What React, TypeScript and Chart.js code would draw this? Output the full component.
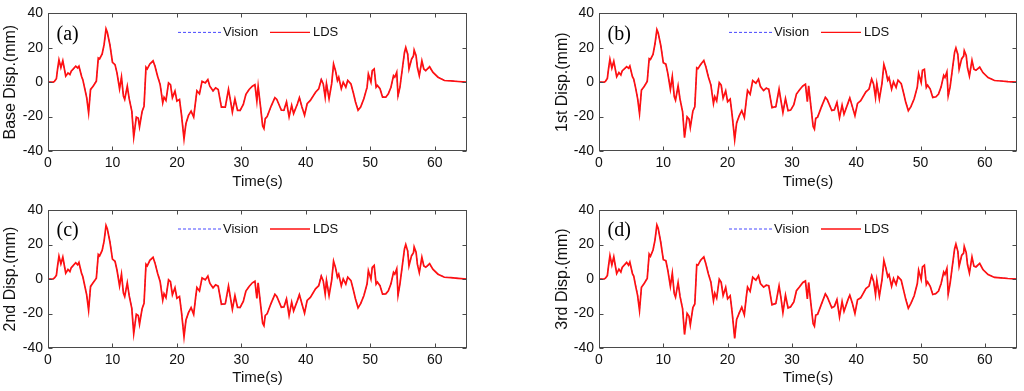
import React, { useEffect, useRef } from "react";
import { Chart, registerables } from "chart.js";

Chart.register(...registerables);

// ---------- data ----------
const timeS = [
  0, 0.8, 1.0, 1.3, 1.5, 1.7, 2.0, 2.3, 2.75, 3.1,
  3.4, 3.6, 4.3, 4.6, 4.8, 5.2, 5.4, 5.7, 6.0, 6.3,
  6.6, 7.0, 7.5, 7.8, 8.0, 8.4, 8.7, 9.0, 9.2, 9.6,
  10.0, 10.4, 10.7, 11.1, 11.4, 11.7, 11.9, 12.3, 12.6, 13.0,
  13.3, 13.7, 14.0, 14.2, 14.6, 14.9, 15.2, 15.4, 15.8, 16.3,
  16.6, 17.0, 17.4, 17.8, 18.0, 18.3, 18.7, 19.0, 19.3, 19.7,
  20.0, 20.4, 20.7, 21.1, 21.4, 21.8, 22.2, 22.6, 22.9, 23.1,
  23.5, 23.9, 24.4, 24.8, 25.1, 25.6, 26.0, 26.4, 26.9, 27.5,
  28.0, 28.3, 28.6, 29.0, 29.4, 29.8, 30.3, 30.7, 31.2, 31.7,
  32.1, 32.4, 32.6, 32.9, 33.3, 33.5, 33.7, 34.0, 34.6, 35.2,
  35.5, 36.2, 36.6, 37.0, 37.4, 37.8, 38.1, 38.7, 39.0, 39.4,
  39.8, 40.2, 40.7, 41.5, 42.0, 42.4, 42.7, 43.0, 43.2, 43.6,
  44.0, 44.3, 44.6, 44.9, 45.1, 45.5, 45.8, 46.2, 46.5, 47.0,
  47.4, 47.7, 48.1, 48.5, 49.0, 49.5, 49.7, 50.1, 50.3, 50.6,
  50.9, 51.1, 51.5, 51.9, 52.4, 52.8, 53.2, 53.6, 53.8, 54.1,
  54.3, 54.6, 55.0, 55.3, 55.5, 55.8, 56.0, 56.4, 56.7, 56.8,
  57.1, 57.3, 57.6, 58.0, 58.3, 58.6, 59.2, 59.7, 60.5, 61.5,
  62.5, 63.6, 65,
];

const ldsBase = [
  0, 0, 0.5, 2, 8, 13, 8.5, 12.5, 3.5, 5.4,
  4.4, 6.4, 9.3, 8.3, 9.3, 3.5, 1.5, -3.7, -9, -17.8,
  -4.2, -2.3, 0.6, 14, 13.5, 16.4, 21.8, 31, 29, 21.8,
  11.6, 10.2, 5.4, -3.9, 3, -8, -10, -2.3, -9.7, -16.8,
  -31.9, -20.3, -21, -26, -17, -14, 8.7, 7.7, 10.6, 12.4,
  9.3, 3.5, -1.4, -12, -8.7, -10.6, -0.4, -1.4, -9, -5.2,
  -11, -10, -18.7, -33, -24, -19.3, -16.8, -20.3, -11, -5,
  -6.8, 0.6, -0.4, 1.5, -2.3, -5, -3.3, -4.2, -14.5, -14.5,
  -4.2, -10.6, -17.4, -9.7, -16.4, -16.4, -12.9, -7.1, -4.2, -2.3,
  -1.4, -11, -2.3, -12, -25.5, -27, -21.2, -20, -14, -9,
  -10, -16.3, -16.3, -11.5, -20.2, -13.5, -18.3, -12.5, -9, -14.4,
  -19.2, -12.5, -10.6, -5.8, -3.8, 1.5, -1, -8.7, -1, -9.6,
  -1, 10.6, 6.7, 1, 2.9, -3.8, 0, -2.9, 1, -1,
  -6.7, -11.5, -16.3, -14.4, -9.6, -2.9, 4.8, 0, 6.7, 7.7,
  -2.9, -1.9, -3.8, -8.7, -8.7, -6.7, -2.9, 3.8, 2.9, 5.8,
  -7.7, -2.9, 8.7, 17.3, 20.2, 16.3, 7.7, 13.5, 15.4, 18.7,
  15.4, 8.7, 3.8, 12.5, 7.7, 6.7, 9, 5.8, 2.9, 1,
  0.8, 0.4, 0,
];
const visionBase = [
  0, 0, 0.4, 2.2, 7.6, 12.6, 8.8, 12.1, 3.9, 5.1,
  4.7, 6.1, 9, 8.6, 9, 3.9, 1.2, -3.4, -8.6, -17.2,
  -4.6, -2.1, 0.9, 13.6, 13.8, 16, 21.4, 30.4, 28.6, 22.2,
  11.9, 9.8, 5.7, -3.5, 2.6, -7.6, -9.6, -2.6, -9.3, -16.4,
  -31.2, -20.7, -20.6, -25.4, -17.4, -13.6, 8.2, 8, 10.2, 12,
  9.6, 3.8, -1.1, -11.5, -9, -10.2, -0.8, -1.1, -8.6, -5.6,
  -10.6, -10.3, -18.2, -32.3, -24.4, -19, -17.1, -19.8, -11.4, -5.3,
  -6.5, 0.3, -0.1, 1.2, -2, -5.3, -3, -4.5, -14, -14.9,
  -4.5, -10.2, -16.9, -10, -16, -16.8, -12.6, -7.4, -3.9, -2.6,
  -1.7, -10.5, -2.6, -11.6, -25, -26.4, -21.6, -19.6, -14.4, -8.7,
  -10.3, -15.9, -16.7, -11.2, -19.6, -13.8, -17.8, -12.8, -8.7, -14.8,
  -18.7, -12.8, -10.3, -6.1, -3.5, 2.2, -1.4, -8.2, -0.6, -9.1,
  -1.4, 10, 7, 0.6, 3.2, -3.4, -0.4, -2.6, 1.3, -1.3,
  -6.4, -11.2, -15.8, -14.7, -9.3, -3.3, 4.3, 0.4, 6.2, 7.3,
  -2.5, -2.2, -3.5, -8.3, -9, -6.4, -3.2, 3.4, 3.2, 5.4,
  -8.4, -2.5, 8.2, 16.8, 19.5, 16.6, 8.1, 13, 15, 18.1,
  15.7, 9, 4.2, 12, 8, 6.4, 8.6, 5.9, 3, 1.1,
  0.8, 0.4, 0,
];

const ldsFirst = [
  0, 0, 0.5, 2.2, 8.3, 13.4, 8.2, 12.2, 3.2, 5.6,
  4.2, 6.6, 9.1, 8.1, 9.4, 3.2, 1.8, -3.4, -9.4, -18.2,
  -4.6, -2.6, 0.4, 13.7, 13.2, 16.1, 22.2, 30.6, 28.7, 21.5,
  11.3, 10.5, 5.1, -4.2, 3.3, -8.3, -10.4, -2.1, -9.9, -17.2,
  -32.3, -20.1, -21.4, -26.4, -16.7, -14.3, 8.4, 7.9, 10.3, 12.6,
  9.1, 3.2, -1.7, -12.4, -8.4, -10.9, -0.2, -1.7, -9.3, -5,
  -11.3, -9.8, -19, -33.4, -23.7, -19.6, -16.5, -20.6, -10.7, -4.8,
  -7, 0.9, -0.6, 1.8, -2.5, -4.8, -3.5, -4, -14.8, -14.2,
  -4, -10.9, -17.7, -9.5, -16.6, -16.2, -13.1, -6.9, -4.4, -2.1,
  -1.2, -11.3, -2.1, -12.3, -25.8, -27.3, -21, -20.3, -14.2, -8.8,
  -10.2, -16.5, -16.1, -11.8, -20.6, -13.3, -18.6, -12.3, -9.2, -14.2,
  -19.5, -12.3, -10.8, -5.6, -4, 1.8, -1.2, -8.9, -0.8, -9.8,
  -0.8, 10.3, 6.5, 1.2, 2.7, -4, 0.2, -3.1, 1.2, -0.8,
  -6.9, -11.7, -16.6, -14.2, -9.8, -2.7, 5, -0.2, 6.9, 7.5,
  -3.1, -1.7, -4, -8.9, -8.5, -6.9, -2.7, 4, 2.7, 6,
  -7.9, -2.7, 8.9, 17.5, 19.9, 16.1, 7.5, 13.7, 15.2, 18.4,
  15.6, 8.5, 3.6, 12.7, 7.5, 6.9, 8.8, 5.6, 2.7, 1,
  0.7, 0.3, 0,
];
const visionFirst = [
  0, 0, 0.4, 2.4, 7.9, 13, 8.5, 11.8, 3.6, 5.3,
  4.5, 6.3, 8.8, 8.4, 9.1, 3.6, 1.5, -3.1, -9, -17.6,
  -5, -2.4, 0.7, 13.3, 13.5, 15.7, 21.8, 30, 28.3, 21.9,
  11.6, 10.1, 5.4, -3.8, 2.9, -7.9, -10, -2.4, -9.5, -16.8,
  -31.6, -20.5, -21, -25.8, -17.1, -13.9, 7.9, 8.2, 9.9, 12.2,
  9.4, 3.5, -1.4, -11.9, -8.7, -10.5, -0.6, -1.4, -8.9, -5.4,
  -10.9, -10.1, -18.5, -32.7, -24.1, -19.3, -16.8, -20.1, -11.1, -5.1,
  -6.7, 0.6, -0.3, 1.5, -2.2, -5.1, -3.2, -4.3, -14.3, -14.6,
  -4.3, -10.5, -17.2, -9.8, -16.2, -16.6, -12.8, -7.2, -4.1, -2.4,
  -1.5, -10.8, -2.4, -11.9, -25.3, -26.7, -21.4, -19.9, -14.6, -8.5,
  -10.5, -16.1, -16.5, -11.5, -20, -13.6, -18.1, -12.6, -8.9, -14.6,
  -19, -12.6, -10.5, -5.9, -3.7, 2.5, -1.6, -8.4, -0.4, -9.3,
  -1.2, 9.7, 6.8, 0.8, 3, -3.6, -0.2, -2.8, 1.5, -1.1,
  -6.6, -11.4, -16.1, -14.5, -9.5, -3.1, 4.5, 0.2, 6.4, 7.1,
  -2.7, -2, -3.7, -8.5, -8.8, -6.6, -3, 3.6, 3, 5.6,
  -8.6, -2.3, 8.4, 17, 19.2, 16.4, 7.9, 13.2, 14.8, 17.8,
  15.9, 8.8, 4, 12.2, 7.8, 6.6, 8.4, 5.7, 2.8, 1.1,
  0.7, 0.3, 0,
];

const ldsSecond = [
  0, 0, 0.6, 2.1, 8.1, 13.2, 8.7, 12.7, 3.4, 5.5,
  4.3, 6.5, 9.4, 8.2, 9.6, 3.3, 1.4, -3.9, -9.2, -18.1,
  -4.3, -2.2, 0.5, 14.2, 13.4, 16.6, 22, 31.1, 29.2, 21.6,
  11.5, 10.3, 5.2, -4, 2.8, -8.2, -10.2, -2.2, -9.8, -17,
  -31.6, -20.4, -21.2, -26.2, -17.2, -14.1, 8.5, 7.6, 10.8, 12.6,
  9.2, 3.3, -1.6, -12.3, -8.5, -10.8, -0.5, -1.6, -9.2, -5.1,
  -11.2, -10.1, -18.9, -33.5, -23.8, -19.5, -16.6, -20.5, -10.8, -4.9,
  -6.9, 0.7, -0.5, 1.7, -2.4, -5.1, -3.4, -4.1, -14.7, -14.4,
  -4.1, -10.8, -17.6, -9.6, -16.5, -16.5, -13, -7, -4.3, -2.2,
  -1.3, -11.2, -2.2, -12.2, -25.7, -27.1, -21.1, -20.2, -14.1, -8.9,
  -10.1, -16.4, -16.2, -11.6, -21.2, -13.4, -18.5, -12.4, -9.1, -14.5,
  -19.8, -12.4, -10.7, -5.7, -3.9, 1.7, -1.1, -8.8, -0.9, -9.7,
  -0.9, 10.4, 6.6, 1.1, 2.8, -3.9, 0.1, -3, 1.1, -0.9,
  -6.8, -11.6, -16.8, -14.3, -9.7, -2.8, 4.9, -0.1, 6.8, 7.9,
  -3, -1.8, -3.9, -8.8, -8.6, -6.8, -2.8, 3.9, 2.8, 5.9,
  -9.4, -2.8, 8.8, 17.4, 20, 16.2, 7.6, 13.6, 15.3, 18.6,
  15.5, 8.6, 3.7, 12.6, 7.6, 6.8, 8.9, 5.7, 2.8, 1,
  0.8, 0.4, 0,
];
const visionSecond = [
  0, 0, 0.5, 2.3, 7.7, 12.8, 9, 12.3, 3.8, 5.2,
  4.6, 6.2, 9.1, 8.5, 9.2, 3.7, 1.1, -3.5, -8.8, -17.5,
  -4.7, -2, 0.8, 13.8, 13.7, 16.2, 21.6, 30.5, 28.8, 22,
  11.8, 9.9, 5.5, -3.6, 2.4, -7.8, -9.8, -2.5, -9.4, -16.6,
  -30.9, -20.8, -20.8, -25.6, -17.6, -13.7, 8, 7.9, 10.4, 12.2,
  9.5, 3.6, -1.3, -11.8, -8.8, -10.4, -0.9, -1.3, -8.8, -5.5,
  -10.8, -10.4, -18.4, -32.8, -24.2, -19.2, -16.9, -20, -11.2, -5.2,
  -6.6, 0.4, -0.2, 1.4, -2.1, -5.4, -3.1, -4.4, -14.2, -14.8,
  -4.4, -10.4, -17.1, -9.9, -16.1, -16.9, -12.7, -7.3, -4, -2.5,
  -1.6, -10.7, -2.5, -11.8, -25.2, -26.5, -21.5, -19.8, -14.5, -8.6,
  -10.4, -16, -16.6, -11.3, -20.6, -13.7, -18, -12.7, -8.8, -14.9,
  -19.3, -12.7, -10.4, -6, -3.6, 2.4, -1.5, -8.3, -0.5, -9.2,
  -1.3, 9.8, 6.9, 0.7, 3.1, -3.5, -0.3, -2.7, 1.4, -1.2,
  -6.5, -11.3, -16.3, -14.6, -9.4, -3.2, 4.4, 0.3, 6.3, 7.5,
  -2.6, -2.1, -3.6, -8.4, -8.9, -6.5, -3.1, 3.5, 3.1, 5.5,
  -10.1, -2.4, 8.3, 16.9, 19.3, 16.5, 8, 13.1, 14.9, 18,
  15.8, 8.9, 4.1, 12.1, 7.9, 6.5, 8.5, 5.8, 2.9, 1.1,
  0.8, 0.4, 0,
];

const ldsThird = [
  0, 0, 0.5, 2, 8.2, 13.6, 8.1, 12.9, 3.1, 5.7,
  4.1, 6.7, 9.6, 8, 9.8, 3.1, 1.7, -4.1, -9.5, -18.3,
  -4.8, -2.7, 0.3, 14.4, 13.1, 16.8, 22.4, 31.4, 29.5, 21.3,
  11.2, 10.6, 5, -4.3, 3.4, -8.5, -10.6, -2, -10.1, -17.3,
  -32.2, -19.9, -21.6, -26.6, -16.6, -14.5, 8.3, 8.1, 10.9, 12.8,
  9, 3.1, -1.9, -12.6, -8.2, -11.1, -0.1, -1.9, -9.6, -4.9,
  -11.5, -9.7, -19.2, -34.4, -23.5, -19.8, -16.3, -20.8, -10.5, -4.7,
  -7.2, 1, -0.7, 1.9, -2.6, -4.7, -3.6, -3.9, -15, -14.1,
  -3.9, -11.1, -19.5, -9.4, -16.8, -16.1, -13.3, -6.8, -4.5, -2,
  -1.1, -11.5, -2, -12.5, -26, -27.4, -20.9, -20.5, -14.4, -8.6,
  -10.4, -16.7, -15.9, -12, -22, -13.1, -18.8, -12.1, -9.4, -14.1,
  -20, -12.1, -10.9, -5.5, -4.1, 1.9, -1.3, -9.1, -0.7, -10,
  -0.7, 10.8, 6.4, 1.3, 2.6, -4.2, 0.3, -3.2, 1.3, -0.7,
  -7, -11.8, -16.9, -14.1, -9.9, -2.6, 5.1, -0.3, 7, 8,
  -3.2, -1.6, -4.2, -9, -8.4, -7, -2.6, 4.1, 2.6, 6.1,
  -8.8, -2.6, 9, 17.6, 20.3, 16, 7.4, 13.8, 15.1, 18.9,
  15.3, 8.4, 3.5, 12.8, 7.4, 7, 9.1, 5.5, 2.6, 0.9,
  0.7, 0.3, 0,
];
const visionThird = [
  0, 0, 0.4, 2.2, 7.8, 13.2, 8.4, 12.5, 3.5, 5.4,
  4.4, 6.4, 9.3, 8.3, 9.4, 3.5, 1.4, -3.7, -9.1, -17.7,
  -5.2, -2.5, 0.6, 14, 13.4, 16.4, 22, 30.8, 29.1, 21.7,
  11.5, 10.2, 5.3, -3.9, 3, -8.1, -10.2, -2.3, -9.7, -16.9,
  -31.5, -20.3, -21.2, -26, -17, -14.1, 7.8, 8.4, 10.5, 12.4,
  9.3, 3.4, -1.6, -12.1, -8.5, -10.7, -0.5, -1.6, -9.2, -5.3,
  -11.1, -10, -18.7, -33.7, -23.9, -19.5, -16.6, -20.3, -10.9, -5,
  -6.9, 0.7, -0.4, 1.6, -2.3, -5, -3.3, -4.2, -14.5, -14.5,
  -4.2, -10.7, -19, -9.7, -16.4, -16.5, -13, -7.1, -4.2, -2.3,
  -1.4, -11, -2.3, -12.1, -25.5, -26.8, -21.3, -20.1, -14.8, -8.3,
  -10.7, -16.3, -16.3, -11.7, -21.4, -13.4, -18.3, -12.4, -9.1, -14.5,
  -19.5, -12.4, -10.6, -5.8, -3.8, 2.6, -1.7, -8.6, -0.3, -9.5,
  -1.1, 10.2, 6.7, 0.9, 2.9, -3.8, -0.1, -2.9, 1.6, -1,
  -6.7, -11.5, -16.4, -14.4, -9.6, -3, 4.6, 0.1, 6.5, 7.6,
  -2.8, -1.9, -3.9, -8.6, -8.7, -6.7, -2.9, 3.7, 2.9, 5.7,
  -9.5, -2.2, 8.5, 17.1, 19.6, 16.3, 7.8, 13.3, 14.7, 18.3,
  15.6, 8.7, 3.9, 12.3, 7.7, 6.7, 8.7, 5.6, 2.7, 1,
  0.7, 0.3, 0,
];

const xTicks = [0, 10, 20, 30, 40, 50, 60];
const yTicks = [-40, -20, 0, 20, 40];
const panelLetters = ["(a)", "(b)", "(c)", "(d)"];
const yTitles = ["Base Disp.(mm)", "1st Disp.(mm)", "2nd Disp.(mm)", "3rd Disp.(mm)"];
const xTitle = "Time(s)";
const legendLabels = ["Vision", "LDS"];
const ldsSeries = [ldsBase, ldsFirst, ldsSecond, ldsThird];
const visionSeries = [visionBase, visionFirst, visionSecond, visionThird];

// ---------- layout / style ----------
const SANS = "'Liberation Sans', Arial, sans-serif";
const SERIF = "'Liberation Serif', 'Times New Roman', serif";
const TEXT = "#111";
const RED = "#ff1010";
const BLUE = "#4848ff";

type Geom = {
  left: number; top: number; width: number; height: number;
  yAxisW: number; padRight: number; padTop: number; xAxisH: number; yTitlePad: number;
};
const geoms: Geom[] = [
  { left: 0, top: 0, width: 512, height: 195, yAxisW: 48, padRight: 45, padTop: 12, xAxisH: 44, yTitlePad: 0.5 },
  { left: 512, top: 0, width: 512, height: 195, yAxisW: 87, padRight: 7, padTop: 12, xAxisH: 44, yTitlePad: 40.5 },
  { left: 0, top: 195, width: 512, height: 196, yAxisW: 48, padRight: 45, padTop: 15, xAxisH: 43, yTitlePad: 0.5 },
  { left: 512, top: 195, width: 512, height: 196, yAxisW: 87, padRight: 7, padTop: 15, xAxisH: 43, yTitlePad: 40.5 },
];

const framePlugin = {
  id: "matlabFrame",
  afterDraw(chart: any, _args: any, opts: any) {
    const { ctx, chartArea: a, scales } = chart;
    const xs = scales.x;
    const ys = scales.y;
    ctx.save();
    // box
    ctx.strokeStyle = "#4a4a4a";
    ctx.lineWidth = 1;
    const L = Math.round(a.left) + 0.5;
    const R = Math.round(a.right) - 0.5;
    const T = Math.round(a.top) + 0.5;
    const B = Math.round(a.bottom) - 0.5;
    ctx.strokeRect(L, T, R - L, B - T);
    // inward ticks on all four sides
    const tl = 4;
    ctx.beginPath();
    for (const v of xTicks) {
      const px = Math.round(xs.getPixelForValue(v)) + 0.5;
      ctx.moveTo(px, B); ctx.lineTo(px, B - tl);
      ctx.moveTo(px, T); ctx.lineTo(px, T + tl);
    }
    for (const v of yTicks) {
      const py = Math.round(ys.getPixelForValue(v)) + 0.5;
      ctx.moveTo(L, py); ctx.lineTo(L + tl, py);
      ctx.moveTo(R, py); ctx.lineTo(R - tl, py);
    }
    ctx.stroke();

    // legend
    const ly = a.top + 19;
    ctx.font = `13px ${SANS}`;
    ctx.fillStyle = TEXT;
    ctx.textBaseline = "middle";
    ctx.textAlign = "left";
    ctx.strokeStyle = BLUE;
    ctx.lineWidth = 1;
    ctx.setLineDash([3, 2]);
    ctx.beginPath();
    ctx.moveTo(a.left + 130, ly); ctx.lineTo(a.left + 174, ly);
    ctx.stroke();
    ctx.setLineDash([]);
    ctx.fillText(legendLabels[0], a.left + 175, ly);
    ctx.strokeStyle = RED;
    ctx.lineWidth = 1.4;
    ctx.beginPath();
    ctx.moveTo(a.left + 222, ly); ctx.lineTo(a.left + 262, ly);
    ctx.stroke();
    ctx.fillText(legendLabels[1], a.left + 265, ly);

    // panel letter
    ctx.font = `20px ${SERIF}`;
    ctx.fillStyle = "#000";
    ctx.fillText(opts.letter, a.left + 8.5, a.top + 21);
    ctx.restore();
  },
};

function Panel({ idx }: { idx: number }) {
  const ref = useRef<HTMLCanvasElement>(null);
  const g = geoms[idx];
  useEffect(() => {
    if (!ref.current) return;
    const lds = ldsSeries[idx];
    const vis = visionSeries[idx];
    const chart = new Chart(ref.current, {
      type: "line",
      data: {
        datasets: [
          {
            label: legendLabels[1],
            data: timeS.map((t, i) => ({ x: t, y: lds[i] })),
            borderColor: RED,
            borderWidth: 1.7,
            pointRadius: 0,
            tension: 0,
            fill: false,
          },
          {
            label: legendLabels[0],
            data: timeS.map((t, i) => ({ x: t, y: vis[i] })),
            borderColor: BLUE,
            borderWidth: 1,
            borderDash: [3, 2],
            pointRadius: 0,
            tension: 0,
            fill: false,
          },
        ],
      },
      options: {
        animation: false,
        responsive: false,
        events: [],
        layout: { padding: { left: 0, right: g.padRight, top: g.padTop, bottom: 0 } },
        plugins: {
          legend: { display: false },
          tooltip: { enabled: false },
          matlabFrame: { letter: panelLetters[idx] },
        } as any,
        scales: {
          x: {
            type: "linear",
            min: 0,
            max: 65,
            afterBuildTicks: (s: any) => { s.ticks = xTicks.map((v) => ({ value: v })); },
            afterFit: (s: any) => { s.height = g.xAxisH; },
            grid: { display: false, drawTicks: false },
            border: { display: false },
            ticks: { padding: 4, color: TEXT, font: { family: SANS, size: 14 }, maxRotation: 0, autoSkip: false },
            title: {
              display: true, text: xTitle, color: TEXT,
              font: { family: SANS, size: 15 }, padding: { top: 0, bottom: 4.3 },
            },
          },
          y: {
            type: "linear",
            min: -40,
            max: 40,
            afterBuildTicks: (s: any) => { s.ticks = yTicks.map((v) => ({ value: v })); },
            afterFit: (s: any) => { s.width = g.yAxisW; },
            grid: { display: false, drawTicks: false },
            border: { display: false },
            ticks: { padding: 5, color: TEXT, font: { family: SANS, size: 14 }, autoSkip: false },
            title: {
              display: true, text: yTitles[idx], color: TEXT,
              font: { family: SANS, size: 16 }, padding: { top: g.yTitlePad, bottom: 0 },
            },
          },
        },
      },
      plugins: [framePlugin],
    } as any);
    return () => chart.destroy();
  }, [idx]);
  return (
    <div style={{ position: "absolute", left: g.left, top: g.top, width: g.width, height: g.height }}>
      <canvas ref={ref} width={g.width} height={g.height} style={{ display: "block" }} />
    </div>
  );
}

export default function App() {
  return (
    <div style={{ position: "absolute", left: 0, top: 0, width: 1024, height: 391, background: "#fff" }}>
      {[0, 1, 2, 3].map((i) => (
        <Panel key={i} idx={i} />
      ))}
    </div>
  );
}
